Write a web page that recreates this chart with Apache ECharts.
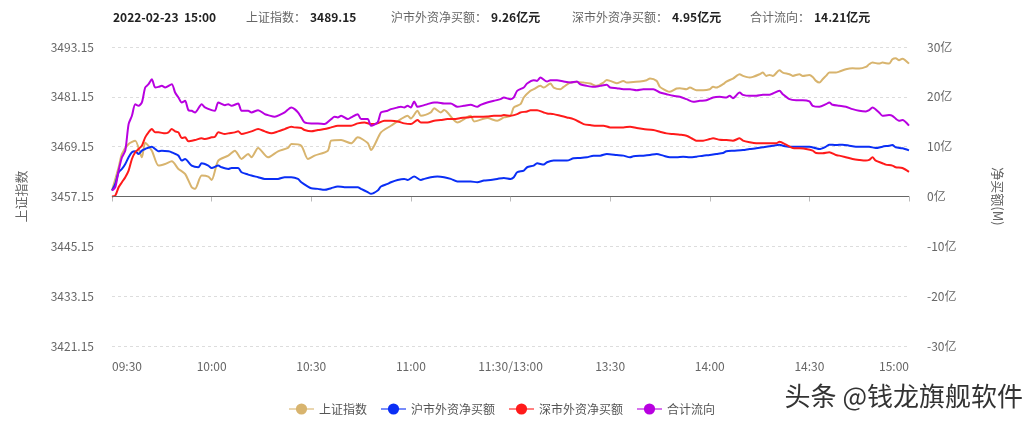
<!DOCTYPE html>
<html>
<head>
<meta charset="utf-8">
<script src="https://cdn.jsdelivr.net/npm/echarts@6/dist/echarts.min.js"></script>
<style>html,body{margin:0;padding:0;background:#fff}#c{width:1035px;height:425px}</style>
</head>
<body>
<div id="c"></div>
<script>
// ---------- data ----------
const tickLabels = ['09:30','10:00','10:30','11:00','11:30/13:00','13:30','14:00','14:30','15:00'];
const seriesNames = ['上证指数','沪市外资净买额','深市外资净买额','合计流向'];
const headerDate = '2022-02-23  15:00';
const headerLabels = ['上证指数：','沪市外资净买额：','深市外资净买额：','合计流向：'];
const headerValues = ['3489.15','9.26亿元','4.95亿元','14.21亿元'];
const leftTicks = [3421.15, 3493.15, 12];   // min, max, step
const rightTicks = [-30, 30, 10];

// [minute index, value]
const shIndex = [[0,3458.59],[2,3464.19],[3,3467.39],[5,3469.79],[7,3470.59],[9,3466.59],[10,3470.11],[12,3468.19],[14,3464.59],[16,3464.99],[18,3465.63],[20,3463.79],[22,3462.59],[24,3459.39],[25,3458.99],[27,3462.19],[29,3461.95],[30,3461.15],[32,3465.79],[35,3466.99],[37,3468.19],[39,3466.19],[41,3467.39],[42,3466.59],[44,3468.83],[47,3466.59],[50,3468.03],[53,3468.83],[54,3469.79],[57,3469.39],[59,3466.19],[61,3466.99],[65,3468.19],[66,3470.59],[69,3470.75],[72,3469.95],[74,3471.39],[77,3470.03],[78,3468.35],[81,3472.59],[84,3474.19],[87,3475.79],[89,3476.59],[90,3475.95],[92,3477.79],[93,3476.59],[96,3477.39],[97,3478.43],[99,3477.39],[100,3477.95],[104,3474.99],[108,3476.59],[109,3475.23],[113,3476.03],[116,3475.39],[118,3476.19],[120,3476.59],[121,3478.59],[123,3479.39],[124,3480.99],[126,3482.59],[127,3482.99],[129,3483.79],[130,3483.39],[132,3484.35],[133,3483.39],[135,3482.99],[136,3483.55],[138,3484.59],[140,3484.75],[142,3484.59],[144,3484.35],[146,3483.79],[148,3484.59],[149,3485.23],[150,3484.99],[152,3484.43],[154,3484.99],[155,3484.59],[157,3484.75],[159,3484.83],[161,3485.15],[162,3485.55],[164,3484.99],[165,3483.55],[167,3482.59],[168,3482.35],[170,3483.15],[171,3483.23],[173,3482.99],[174,3483.39],[176,3482.75],[178,3482.75],[180,3482.99],[181,3483.55],[182,3483.39],[184,3484.19],[185,3484.83],[187,3485.55],[189,3486.59],[190,3486.19],[192,3485.79],[193,3485.95],[195,3486.59],[196,3486.99],[197,3486.19],[198,3486.43],[199,3486.19],[201,3487.55],[202,3486.99],[204,3486.59],[205,3486.19],[207,3486.59],[208,3486.19],[210,3486.43],[211,3485.95],[212,3484.99],[213,3484.59],[214,3485.39],[215,3486.19],[216,3486.99],[218,3486.99],[219,3487.23],[221,3487.79],[223,3488.03],[225,3487.95],[227,3488.35],[228,3488.99],[229,3489.39],[231,3489.15],[232,3489.39],[234,3489.15],[235,3490.19],[236,3490.43],[237,3489.95],[238,3490.35],[240,3489.15]];

const shFlow = [[0,1.2],[1,2.53],[2,4.87],[3,5.53],[4,6.53],[5,7.87],[6,8.87],[7,9.07],[8,8.53],[9,9.2],[10,9.53],[12,10],[13,9.53],[14,9.07],[15,9.2],[17,9.07],[18,8.87],[20,8.2],[21,7.2],[22,7.53],[24,6.2],[26,5.87],[27,6.67],[29,6.2],[30,5.73],[32,6.2],[33,5.87],[35,5.53],[36,5.73],[38,5.73],[39,4.87],[41,4.4],[42,4.2],[44,3.87],[46,3.53],[48,3.53],[50,3.53],[52,3.87],[54,3.87],[56,3.53],[57,2.87],[59,2],[60,1.67],[62,1.53],[64,1.33],[66,1.67],[68,2],[70,1.87],[72,1.87],[74,1.87],[75,1.53],[77,0.87],[78,0.53],[80,1.2],[81,2],[83,2.53],[84,2.87],[86,3.33],[88,3.53],[89,3.33],[91,4],[93,3.33],[94,3.53],[96,3.87],[98,4],[100,3.87],[102,3.53],[104,3],[106,3],[108,3],[110,2.87],[112,3.2],[114,3.33],[116,3.53],[118,3.73],[120,3.53],[121,3.87],[122,4.87],[124,5.2],[125,5.87],[127,6.2],[128,6.67],[130,6.4],[131,6.87],[133,7.2],[135,7.2],[137,7.2],[139,7.67],[141,7.73],[143,7.87],[145,8.2],[147,8.2],[149,8.53],[152,8.33],[154,8.2],[156,7.87],[157,8.07],[160,8.2],[162,8.33],[164,8.53],[166,8.2],[168,7.87],[170,7.87],[172,8],[174,7.87],[176,8],[178,8.2],[180,8.33],[182,8.53],[184,8.73],[185,9.07],[187,9.2],[190,9.33],[192,9.53],[194,9.67],[196,9.87],[198,10.07],[199,10.2],[201,10.4],[202,10.2],[204,10],[206,10],[208,10],[210,10],[212,9.67],[213,9.53],[215,10],[216,10.4],[218,10.33],[220,10.4],[222,10.2],[224,10],[226,10],[228,10],[230,9.73],[232,10],[234,10.2],[235,10.33],[236,9.87],[238,9.67],[240,9.26]];

const szFlow = [[0,0],[1,0.2],[2,1.87],[3,2.87],[4,3.87],[5,5.2],[6,7.53],[7,8.87],[8,9.53],[9,10.2],[10,11.87],[11,12.87],[12,13.53],[13,12.87],[14,12.87],[16,12.67],[17,12.87],[18,13.53],[19,13.07],[20,12.87],[21,11.73],[22,11.87],[23,11.07],[25,11.33],[27,11.67],[28,11.53],[30,11.87],[31,12],[32,12.87],[34,12.53],[35,12.67],[37,12.87],[38,13.07],[39,12.53],[41,12.87],[42,13.07],[44,13.53],[46,13.07],[48,12.67],[50,13.07],[52,13.53],[54,14],[55,13.87],[57,13.73],[58,13.33],[60,13.07],[62,13.33],[64,13.53],[66,13.87],[68,14.2],[70,14.2],[72,14.2],[74,14.67],[76,14.87],[78,14.53],[80,14.67],[82,15.2],[84,15.2],[86,15.07],[88,14.67],[90,14.53],[92,15.33],[93,14.87],[95,14.87],[97,15.2],[99,15.33],[101,15.53],[103,15.53],[105,15.73],[107,15.87],[109,16],[111,16],[113,16.07],[115,16.2],[117,16.2],[118,16.33],[120,16.2],[122,16.53],[123,16.87],[125,17.07],[126,17.33],[128,17.33],[130,16.87],[131,16.67],[133,16.53],[135,16.2],[137,15.87],[139,15.53],[141,14.87],[142,14.53],[144,14.33],[146,14.2],[148,14.2],[150,13.87],[152,13.87],[154,13.87],[156,14],[158,13.73],[160,13.53],[163,13.33],[165,13],[167,12.67],[169,12.53],[171,12.4],[173,12.2],[175,11.53],[176,11.2],[178,11.2],[180,11.53],[181,11.67],[183,11.4],[185,11.33],[187,11.2],[189,11.67],[190,11.2],[192,10.87],[194,10.67],[196,10.67],[198,10.67],[200,10.67],[201,11],[203,10.4],[205,9.73],[207,9.67],[209,9.53],[211,9.2],[212,8.73],[214,8.67],[216,8.87],[218,8.33],[219,8.2],[221,7.87],[223,7.53],[225,7.33],[227,7.2],[228,7.33],[229,7.87],[230,7.2],[232,6.67],[233,6.4],[235,6.2],[236,5.87],[238,5.73],[240,4.95]];

const totalFlow = [[0,1.2],[1,1.87],[2,5.2],[3,7.87],[4,9.2],[5,14.53],[6,16.2],[7,18.53],[8,18.2],[9,18.87],[10,21.87],[11,22.53],[12,23.53],[13,21.87],[14,22],[15,22.2],[16,21.87],[18,22.53],[19,20.87],[20,19.87],[21,18.87],[22,19.2],[23,17.33],[24,17.2],[25,16.87],[27,18.53],[28,17.87],[30,17.33],[31,17.2],[32,18.87],[34,18.33],[35,18.53],[36,18.2],[38,18.67],[39,17.2],[41,17.2],[42,16.87],[44,17.33],[46,16.53],[47,16.33],[49,16],[51,16.53],[52,16.87],[54,17.87],[55,17.53],[56,16.87],[57,15.87],[58,14.87],[60,14.67],[62,14.67],[64,14.53],[66,15.53],[67,16],[68,15.87],[69,16.2],[71,15.53],[72,15.87],[74,16.53],[75,15.53],[77,15.53],[78,14.2],[80,14.87],[81,16.87],[83,17.2],[84,17.53],[86,17.87],[87,18],[88,17.87],[89,18.2],[90,17.87],[91,19.07],[92,18],[94,18.33],[95,18.53],[97,18.87],[98,18.87],[100,18.67],[102,18.67],[104,18],[106,18.2],[108,18.4],[110,18],[111,18.4],[113,18.87],[115,19.2],[117,19.53],[118,19.87],[120,19.53],[121,19.87],[122,21.2],[124,21.87],[125,22.67],[127,23.33],[128,23.2],[129,23.87],[131,23.07],[132,23.33],[134,23.33],[136,23.07],[138,22.87],[140,23.07],[141,22.53],[143,22.2],[145,22],[147,22.2],[149,22.4],[150,21.87],[152,21.73],[154,21.53],[156,21.53],[158,21.33],[160,21.53],[163,21.53],[165,20.87],[167,20.53],[169,20.2],[171,20],[173,19.53],[175,19],[177,19.2],[179,19.33],[181,19.87],[183,20],[185,19.87],[186,20.2],[187,19.73],[189,20.87],[190,20.4],[192,20.2],[194,20.2],[196,20.4],[198,20.4],[199,20.67],[201,21.2],[202,20.53],[204,19.53],[206,19.33],[208,19.33],[210,19.07],[211,18.2],[213,18],[215,18.53],[216,18.87],[217,18.4],[219,18.2],[221,18],[223,17.53],[225,17.2],[227,17.07],[228,17.33],[229,17.87],[231,16.87],[232,16.2],[234,16.33],[235,16.2],[237,15.2],[238,15.33],[240,14.21]];

// ---------- categories (one per minute, 11:30 and 13:00 merged) ----------
const categories = [];
function pad(n){return (n<10?'0':'')+n;}
for (let t = 9*60+30; t <= 11*60+30; t++) categories.push(pad(Math.floor(t/60))+':'+pad(t%60));
for (let t = 13*60+1; t <= 15*60; t++) categories.push(pad(Math.floor(t/60))+':'+pad(t%60));
tickLabels.forEach((lab, k) => { categories[k*30] = lab; });

const colors = ['#D8B46E','#0A2EF5','#FF1A1A','#B800E0'];
const FONT = '"Noto Sans CJK SC","Noto Sans",sans-serif';

const chart = echarts.init(document.getElementById('c'), null, {renderer:'canvas'});

const headerX = [246, 391, 572, 750];
const graphics = [{
  type:'text', left:113, top:11,
  style:{text:headerDate, fill:'#222', font:'bold 12px '+FONT}
}];
headerLabels.forEach((l,i)=>{
  graphics.push({type:'text', left:headerX[i], top:11, style:{
    text:'{l|'+l+'}{v|'+headerValues[i]+'}',
    rich:{l:{fill:'#666', fontSize:12, fontFamily:FONT, padding:[0,4,0,0]}, v:{fill:'#222', fontSize:12, fontWeight:'bold', fontFamily:FONT}}
  }});
});
graphics.push({type:'text', right:12, top:383, style:{text:'头条 @钱龙旗舰软件', fill:'#333', font:'26px '+FONT}});

const seriesData = [shIndex, shFlow, szFlow, totalFlow];
const series = seriesData.map((d,i)=>({
  name: seriesNames[i],
  type:'line',
  yAxisIndex: i===0?0:1,
  data: d,
  symbol:'circle',
  showSymbol:false,
  smooth:0.25,
  lineStyle:{width:2, color:colors[i]},
  itemStyle:{color:colors[i]},
  z: i===0?3:4
}));
series[3].markLine = {
  silent:true, symbol:['none','none'], label:{show:false},
  lineStyle:{color:'#666', width:1, type:'solid'},
  data:[{yAxis:0}]
};

chart.setOption({
  animation:false,
  color: colors,
  textStyle:{fontFamily:FONT},
  graphic: graphics,
  grid:{left:112, right:126, top:47, bottom:79},
  legend:{
    data: seriesNames, left:283, top:398, itemGap:13,
    textStyle:{color:'#555', fontSize:12, fontFamily:FONT},
    lineStyle:{opacity:0.55}
  },
  xAxis:{
    type:'category', data:categories, boundaryGap:false,
    axisLine:{lineStyle:{color:'#bbb'}},
    axisTick:{interval:29, lineStyle:{color:'#bbb'}},
    axisLabel:{interval:29, color:'#666', fontSize:12, margin:14, alignMinLabel:'left', alignMaxLabel:'right', showMaxLabel:true},
    splitLine:{show:false}
  },
  yAxis:[{
    type:'value', min:leftTicks[0], max:leftTicks[1], interval:leftTicks[2],
    name:'上证指数', nameLocation:'middle', nameGap:84, nameRotate:90,
    nameTextStyle:{color:'#666', fontSize:13, fontFamily:FONT},
    axisLine:{show:false}, axisTick:{show:false},
    axisLabel:{color:'#666', fontSize:12, margin:18, formatter:v=>v.toFixed(2)},
    splitLine:{show:true, lineStyle:{color:'#ddd', type:[3,3]}}
  },{
    type:'value', min:rightTicks[0], max:rightTicks[1], interval:rightTicks[2],
    name:'净买额(M)', nameLocation:'middle', nameGap:82, nameRotate:-90,
    nameTextStyle:{color:'#666', fontSize:13, fontFamily:FONT},
    axisLine:{show:false}, axisTick:{show:false},
    axisLabel:{color:'#666', fontSize:12, margin:18, formatter:v=>Math.round(v)+'亿'},
    splitLine:{show:false}
  }],
  series: series
});
</script>
</body>
</html>
